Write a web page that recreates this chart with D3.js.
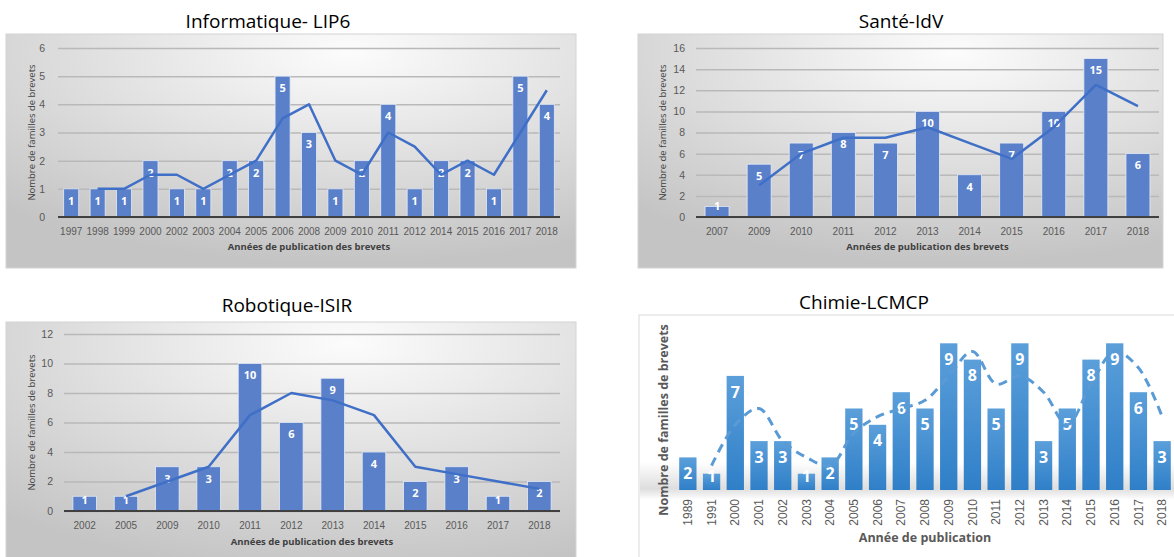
<!DOCTYPE html>
<html>
<head>
<meta charset="utf-8">
<script src="https://cdn.jsdelivr.net/npm/d3@7"></script>
<style>
body { margin: 0; background: #fff; }
svg { display: block; }
</style>
</head>
<body>
<script>
// --- Informatique- LIP6
var infoYears = ["1997","1998","1999","2000","2002","2003","2004","2005","2006","2008","2009","2010","2011","2012","2014","2015","2016","2017","2018"];
var infoCounts = [1,1,1,2,1,1,2,2,5,3,1,2,4,1,2,2,1,5,4];
var infoTrend = [null,1,1,1.5,1.5,1,1.5,2,3.5,4,2,1.5,3,2.5,1.5,2,1.5,3,4.5];

// --- Santé-IdV
var santeYears = ["2007","2009","2010","2011","2012","2013","2014","2015","2016","2017","2018"];
var santeCounts = [1,5,7,8,7,10,4,7,10,15,6];
var santeTrend = [null,3,6,7.5,7.5,8.5,7,5.5,8.5,12.5,10.5];

// --- Robotique-ISIR
var roboYears = ["2002","2005","2009","2010","2011","2012","2013","2014","2015","2016","2017","2018"];
var roboCounts = [1,1,3,3,10,6,9,4,2,3,1,2];
var roboTrend = [null,1,2,3,6.5,8,7.5,6.5,3,2.5,2,1.5];

// --- Chimie-LCMCP
var chimieYears = ["1989","1991","2000","2001","2002","2003","2004","2005","2006","2007","2008","2009","2010","2011","2012","2013","2014","2015","2016","2017","2018"];
var chimieCounts = [2,1,7,3,3,1,2,5,4,6,5,9,8,5,9,3,5,8,9,6,3];
var chimieTrend = [null,1.5,4,5,3,2,1.5,3.5,4.5,5,5.5,7,8.5,6.5,7,6,4,6.5,8.5,7.5,4.5];

var yTitle = "Nombre de familles de brevets";
var xTitle = "Années de publication des brevets";

var FONT = "'Open Sans', 'Noto Sans', sans-serif";
var BarBlue = "#5a80ca";
var LineBlue = "#3f6fc6";

var svg = d3.select("body").append("svg")
	.attr("width", 1174)
	.attr("height", 557)
	.style("font-family", FONT);

var defs = svg.append("defs");

var bg = defs.append("radialGradient").attr("id", "bgGrey")
	.attr("cx", "60%").attr("cy", "8%").attr("r", "90%");
bg.append("stop").attr("offset", "0%").attr("stop-color", "#fcfcfc");
bg.append("stop").attr("offset", "100%").attr("stop-color", "#c4c4c4");

var barGrad = defs.append("linearGradient").attr("id", "chimieBar")
	.attr("x1", 0).attr("y1", 0).attr("x2", 0).attr("y2", 1);
barGrad.append("stop").attr("offset", "0%").attr("stop-color", "#5b9fda");
barGrad.append("stop").attr("offset", "100%").attr("stop-color", "#2f7fc8");

var shadow = defs.append("linearGradient").attr("id", "floorShadow")
	.attr("x1", 0).attr("y1", 0).attr("x2", 0).attr("y2", 1);
shadow.append("stop").attr("offset", "0%").attr("stop-color", "#000").attr("stop-opacity", 0);
shadow.append("stop").attr("offset", "70%").attr("stop-color", "#000").attr("stop-opacity", 0.13);
shadow.append("stop").attr("offset", "100%").attr("stop-color", "#000").attr("stop-opacity", 0);

function greyPanel(o) {
	var g = svg.append("g");

	g.append("rect")
		.attr("x", o.box[0]).attr("y", o.box[1])
		.attr("width", o.box[2] - o.box[0]).attr("height", o.box[3] - o.box[1])
		.attr("fill", "url(#bgGrey)")
		.attr("stroke", "#d4d4d4");

	g.append("text")
		.attr("x", o.titleX).attr("y", o.titleY)
		.attr("text-anchor", "middle")
		.attr("font-size", "19px")
		.attr("fill", "#000")
		.text(o.title);

	var x = d3.scaleBand().domain(o.years).range(o.plotX)
		.paddingInner(0.43).paddingOuter(0.215);
	var y = d3.scaleLinear().domain([0, o.yMax]).range(o.plotY);

	// gridlines + tick labels
	var ya = g.append("g")
		.attr("transform", "translate(" + o.plotX[0] + ",0)")
		.call(d3.axisLeft(y)
			.tickValues(d3.range(0, o.yMax + 1, o.yStep))
			.tickSize(-(o.plotX[1] - o.plotX[0]))
			.tickPadding(o.tickPad)
			.tickFormat(d3.format("d")));
	ya.select(".domain").remove();
	ya.selectAll("line").attr("stroke", "#b9b9b9").attr("stroke-width", 1.5);
	ya.selectAll("text").attr("fill", "#595959").attr("font-size", "10.5px");

	var data = o.years.map((yr, i) => ({yr: yr, v: o.counts[i], t: o.trend[i]}));

	g.selectAll(".bar").data(data).enter()
		.append("rect")
		.attr("x", d => x(d.yr))
		.attr("y", d => y(d.v))
		.attr("width", x.bandwidth())
		.attr("height", d => y(0) - y(d.v))
		.attr("fill", BarBlue)
		.attr("stroke", "#e4eaf6")
		.attr("stroke-width", 0.8);

	g.append("line")
		.attr("x1", o.plotX[0]).attr("x2", o.plotX[1])
		.attr("y1", y(0)).attr("y2", y(0))
		.attr("stroke", "#404040").attr("stroke-width", 2);

	g.selectAll(".lab").data(data).enter()
		.append("text")
		.attr("x", d => x(d.yr) + x.bandwidth() / 2)
		.attr("y", d => Math.min(y(d.v) + 12, y(0) - 11))
		.attr("dy", "0.35em")
		.attr("text-anchor", "middle")
		.attr("font-size", "11px")
		.attr("font-weight", "bold")
		.attr("fill", "#fff")
		.text(d => d.v);

	var line = d3.line()
		.defined(d => d.t != null)
		.x(d => x(d.yr) + x.bandwidth() / 2)
		.y(d => y(d.t));
	g.append("path")
		.datum(data)
		.attr("d", line)
		.attr("fill", "none")
		.attr("stroke", LineBlue)
		.attr("stroke-width", 2.5)
		.attr("stroke-linejoin", "round");

	var xa = g.append("g")
		.attr("transform", "translate(0," + y(0) + ")")
		.call(d3.axisBottom(x).tickSize(0).tickPadding(10.5));
	xa.select(".domain").remove();
	xa.selectAll("text").attr("fill", "#595959").attr("font-size", "10px");

	g.append("text")
		.attr("x", (o.plotX[0] + o.plotX[1]) / 2)
		.attr("y", o.xTitleY)
		.attr("dy", "0.35em")
		.attr("text-anchor", "middle")
		.attr("font-size", "9.5px")
		.attr("font-weight", "bold")
		.attr("fill", "#404040")
		.text(xTitle);

	g.append("text")
		.attr("transform", "translate(" + o.yTitleX + "," + ((o.plotY[0] + o.plotY[1]) / 2) + ") rotate(-90)")
		.attr("dy", "0.35em")
		.attr("text-anchor", "middle")
		.attr("font-size", "9.5px")
		.attr("fill", "#404040")
		.text(yTitle);
}

greyPanel({
	box: [6, 34, 576, 268], title: "Informatique- LIP6", titleX: 268, titleY: 28,
	years: infoYears, counts: infoCounts, trend: infoTrend,
	yMax: 6, yStep: 1, plotX: [58, 560], plotY: [217, 48], tickPad: 13,
	xTitleY: 247, yTitleX: 32
});

greyPanel({
	box: [638, 34, 1163, 268], title: "Santé-IdV", titleX: 901, titleY: 28,
	years: santeYears, counts: santeCounts, trend: santeTrend,
	yMax: 16, yStep: 2, plotX: [696, 1159], plotY: [217, 48], tickPad: 11,
	xTitleY: 247, yTitleX: 663
});

greyPanel({
	box: [6, 322, 576, 580], title: "Robotique-ISIR", titleX: 287, titleY: 312,
	years: roboYears, counts: roboCounts, trend: roboTrend,
	yMax: 12, yStep: 2, plotX: [64, 560], plotY: [511, 334], tickPad: 11,
	xTitleY: 542, yTitleX: 32
});

// --- Chimie panel (white style)
(function () {
	var g = svg.append("g");
	g.append("rect")
		.attr("x", 639).attr("y", 315)
		.attr("width", 560).attr("height", 260)
		.attr("fill", "#fff")
		.attr("stroke", "#d9d9d9");

	g.append("text")
		.attr("x", 864).attr("y", 309)
		.attr("text-anchor", "middle")
		.attr("font-size", "19px")
		.attr("fill", "#000")
		.text("Chimie-LCMCP");

	var x = d3.scaleBand().domain(chimieYears).range([676, 1174])
		.paddingInner(0.27).paddingOuter(0.135);
	var y = d3.scaleLinear().domain([0, 10]).range([490, 327]);

	g.append("rect")
		.attr("x", 640).attr("y", 462)
		.attr("width", 534).attr("height", 38)
		.attr("fill", "url(#floorShadow)");

	var data = chimieYears.map((yr, i) => ({yr: yr, v: chimieCounts[i], t: chimieTrend[i]}));

	g.selectAll(".bar").data(data).enter()
		.append("rect")
		.attr("x", d => x(d.yr))
		.attr("y", d => y(d.v))
		.attr("width", x.bandwidth())
		.attr("height", d => y(0) - y(d.v))
		.attr("fill", "url(#chimieBar)");

	g.selectAll(".lab").data(data).enter()
		.append("text")
		.attr("x", d => x(d.yr) + x.bandwidth() / 2)
		.attr("y", d => Math.min(y(d.v) + 16, y(0) - 14))
		.attr("dy", "0.35em")
		.attr("text-anchor", "middle")
		.attr("font-size", "16px")
		.attr("font-weight", "bold")
		.attr("fill", "#fff")
		.text(d => d.v);

	var line = d3.line()
		.defined(d => d.t != null)
		.curve(d3.curveCatmullRom)
		.x(d => x(d.yr) + x.bandwidth() / 2)
		.y(d => y(d.t));
	g.append("path")
		.datum(data)
		.attr("d", line)
		.attr("fill", "none")
		.attr("stroke", "#5b9bd5")
		.attr("stroke-width", 3)
		.attr("stroke-dasharray", "9,6");

	var xa = g.append("g")
		.attr("transform", "translate(0," + y(0) + ")")
		.call(d3.axisBottom(x).tickSize(0).tickPadding(0));
	xa.select(".domain").remove();
	xa.selectAll("text")
		.attr("fill", "#595959")
		.attr("font-size", "12px")
		.attr("text-anchor", "end")
		.attr("transform", "rotate(-90)")
		.attr("x", -9)
		.attr("y", 0)
		.attr("dy", "0.35em");

	g.append("text")
		.attr("x", 925).attr("y", 538)
		.attr("dy", "0.35em")
		.attr("text-anchor", "middle")
		.attr("font-size", "12.5px")
		.attr("font-weight", "bold")
		.attr("fill", "#595959")
		.text("Année de publication");

	g.append("text")
		.attr("transform", "translate(664,420) rotate(-90)")
		.attr("dy", "0.35em")
		.attr("text-anchor", "middle")
		.attr("font-size", "12.5px")
		.attr("font-weight", "bold")
		.attr("fill", "#595959")
		.text(yTitle);
})();
</script>
</body>
</html>
